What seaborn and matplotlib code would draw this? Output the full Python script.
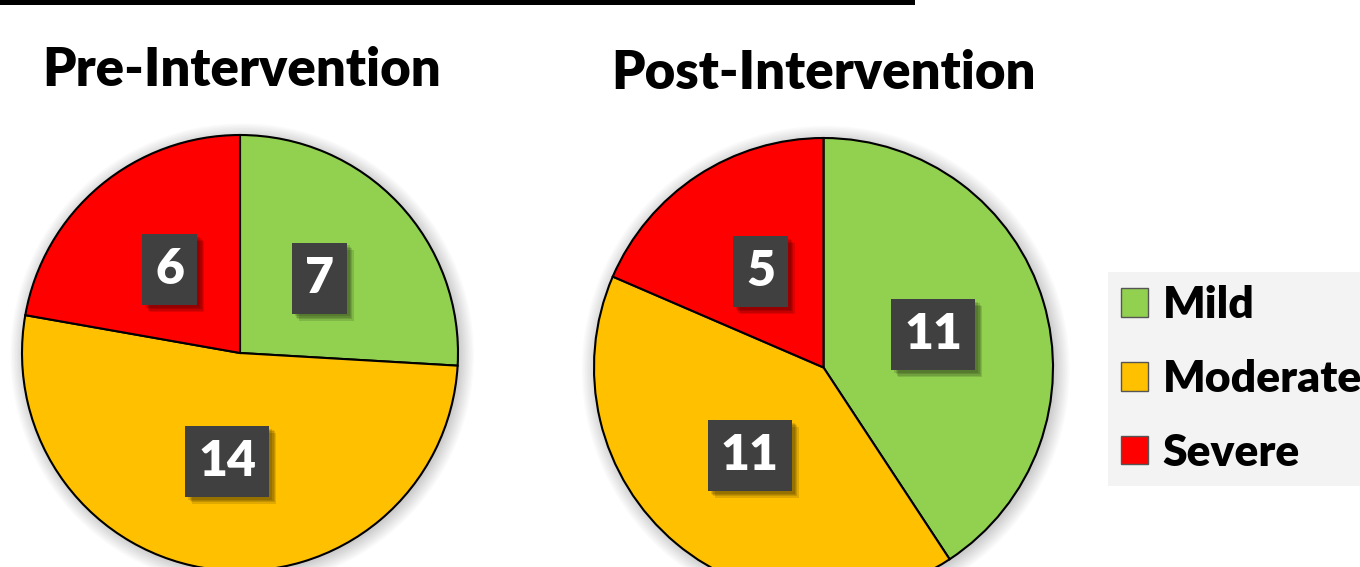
import numpy as np
import matplotlib.pyplot as plt
import seaborn as sns
import matplotlib.patheffects as pe
from matplotlib.patches import Patch, Rectangle, Circle

sns.set_theme(style="white")
plt.rcParams['font.family'] = ['Lato', 'DejaVu Sans']
plt.rcParams['text.color'] = 'black'

# data
categories = ['Mild', 'Moderate', 'Severe']
pre_counts = [7, 14, 6]
post_counts = [11, 11, 5]
titles = ['Pre-Intervention', 'Post-Intervention']
colors = ['#92D050', '#FFC000', '#FF0000']

W, H = 1360, 567
fig = plt.figure(figsize=(13.6, 5.67), dpi=100)
fig.patch.set_facecolor('white')

box_shadow = [pe.SimplePatchShadow(offset=(o, -o), shadow_rgbFace='black', alpha=0.12)
              for o in (2, 3, 4, 5)] + [pe.Normal()]


def add_pie(cx, cy, r, counts):
    # cx, cy, r in pixels (y from top)
    ax = fig.add_axes([(cx - r) / W, (H - cy - r) / H, 2 * r / W, 2 * r / H])
    # soft shadow round the pie
    for k in range(10):
        ax.add_patch(Circle((0.01, -0.01), 1 + 0.007 * k, facecolor='black',
                            edgecolor='none', alpha=0.018, zorder=0, clip_on=False))
    wedges, texts = ax.pie(
        counts, colors=colors, startangle=90, counterclock=False,
        labels=[str(c) for c in counts], labeldistance=0.5,
        wedgeprops=dict(edgecolor='black', linewidth=1.5, zorder=2),
        textprops=dict(color='white', fontsize=36, fontweight='heavy',
                       ha='center', va='center'))
    for w in wedges:
        w.set_clip_on(False)
    for t in texts:
        t.set_zorder(5)
        t.set_bbox(dict(boxstyle='square,pad=0.26', facecolor='#404040', edgecolor='none'))
        t.get_bbox_patch().set_path_effects(box_shadow)
    ax.set_xlim(-1, 1)
    ax.set_ylim(-1, 1)
    ax.set_aspect('auto')
    ax.axis('off')
    return ax


add_pie(240, 353, 218, pre_counts)
add_pie(823.5, 367.5, 229.5, post_counts)

fig.text(42 / W, 1 - 86 / H, titles[0], fontsize=38, fontweight='heavy',
         ha='left', va='baseline', color='black')
fig.text(611 / W, 1 - 89 / H, titles[1], fontsize=38, fontweight='heavy',
         ha='left', va='baseline', color='black')

# black bar along the top
fig.add_artist(Rectangle((0, 1 - 5 / H), 915 / W, 5 / H, transform=fig.transFigure,
                         facecolor='black', edgecolor='none'))

handles = [Patch(facecolor=c, edgecolor='#555555', linewidth=1) for c in colors]
leg = fig.legend(handles, categories, loc='upper left',
                 bbox_to_anchor=(1108 / W, 1 - 272 / H), borderaxespad=0,
                 prop=dict(family=['Lato', 'DejaVu Sans'], weight='heavy', size=32),
                 handlelength=0.61, handleheight=0.61, handletextpad=0.32,
                 labelspacing=0.76, borderpad=0.3, fancybox=False,
                 frameon=True, facecolor='#f3f3f3', edgecolor='none', framealpha=1)
for txt in leg.get_texts():
    txt.set_color('black')

fig.savefig('out.png', dpi=100, facecolor='white')
